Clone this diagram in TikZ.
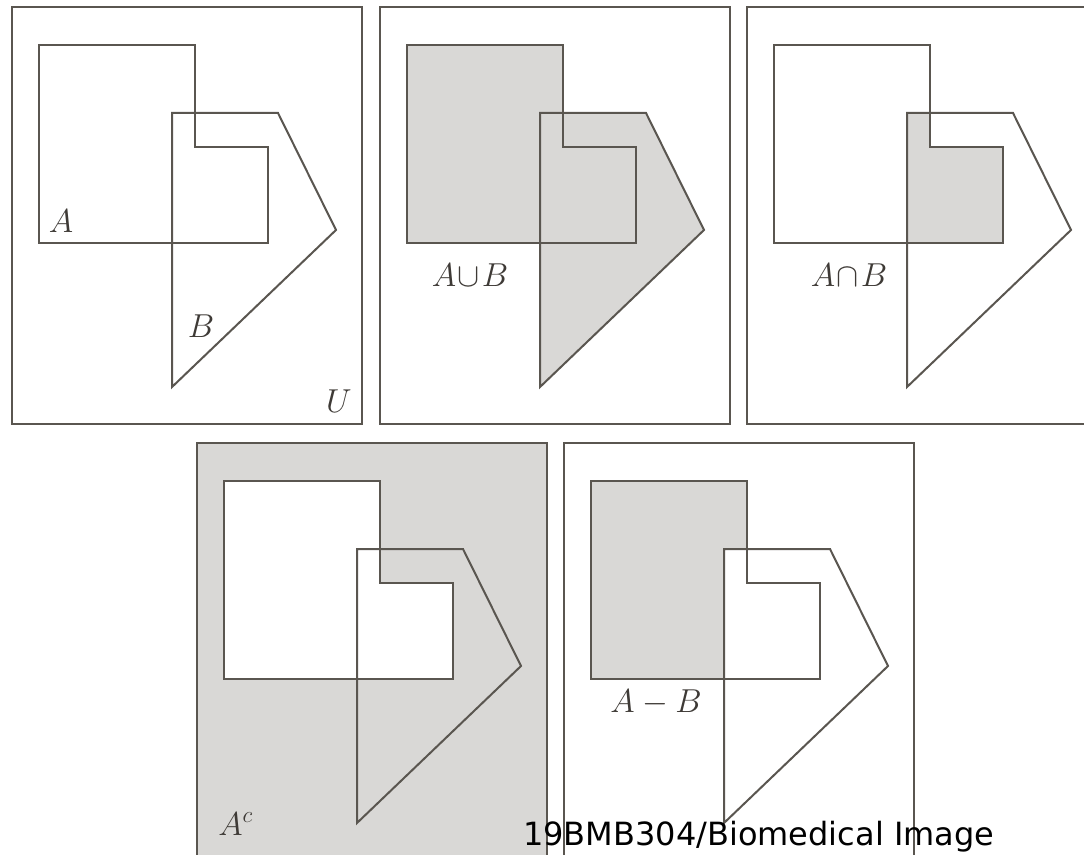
\documentclass[tikz,border=0pt]{standalone}
\usepackage{fontspec}
\newfontfamily\markfont{DejaVu Sans}
\usetikzlibrary{positioning}
\definecolor{edgegray}{HTML}{5A5650}
\definecolor{shadegray}{HTML}{D9D8D6}
\definecolor{labelgray}{HTML}{3E3A36}
% the two sets and the universe, in panel coordinates
\newcommand{\setApath}{(39,45) -- (195,45) -- (195,147) -- (268,147) -- (268,243) -- (39,243) -- cycle}
\newcommand{\setBpath}{(172,113) -- (278,113) -- (336,230) -- (172,387) -- cycle}
\newcommand{\framepath}{(12,7) rectangle (362,424)}
\tikzset{
  outline/.style={draw=edgegray,line width=1.5pt,line join=miter},
  shaded/.style={fill=shadegray},
  setlabel/.style={text=labelgray,inner sep=0pt,anchor=base,font=\fontsize{23}{27}\selectfont}
}

\begin{document}
\begin{tikzpicture}[x=0.75pt,y=-0.75pt]
\clip (0,0) rectangle (1084,855);
\fill[white] (0,0) rectangle (1084,855);
% A and B in U
\begin{scope}
\draw[outline] \framepath;
\draw[outline] \setApath;
\draw[outline] \setBpath;
\node[setlabel] (lblA) at (61,233) {$A$};
\node[setlabel] (lblB) at (201,337) {$B$};
\node[setlabel] (lblU) at (339,412) {$U$};
\end{scope}
% union
\begin{scope}[shift={(368,0)}]
\draw[outline] \framepath;
\fill[shaded] \setApath;
\fill[shaded] \setBpath;
\draw[outline] \setApath;
\draw[outline] \setBpath;
\node[setlabel] (lblcup) at (102,287) {$A\mkern1mu{\cup}\mkern1mu B$};
\end{scope}
% intersection
\begin{scope}[shift={(735,0)}]
\draw[outline] \framepath;
\begin{scope}
\clip \setApath;
\fill[shaded] \setBpath;
\end{scope}
\draw[outline] \setApath;
\draw[outline] \setBpath;
\node[setlabel] (lblcap) at (114,287) {$A\mkern1mu{\cap}\mkern1mu B$};
\end{scope}
% complement
\begin{scope}[shift={(185,436)}]
\fill[shaded] \framepath;
\draw[outline] \framepath;
\fill[white] \setApath;
\draw[outline] \setApath;
\draw[outline] \setBpath;
\node[setlabel,anchor=base west] (lblcomp) at (33,399) {$A^c$};
\end{scope}
% difference
\begin{scope}[shift={(552,436)}]
\draw[outline] \framepath;
\fill[shaded] \setApath;
\fill[white] \setBpath;
\draw[outline] \setApath;
\draw[outline] \setBpath;
\node[setlabel] (lbldiff) at (104,276) {$A-B$};
\end{scope}
\node[anchor=base west,inner sep=0pt,font=\markfont\fontsize{24}{28}\selectfont] (mark) at (523,845) {19BMB304/Biomedical Image};
\end{tikzpicture}
\end{document}
